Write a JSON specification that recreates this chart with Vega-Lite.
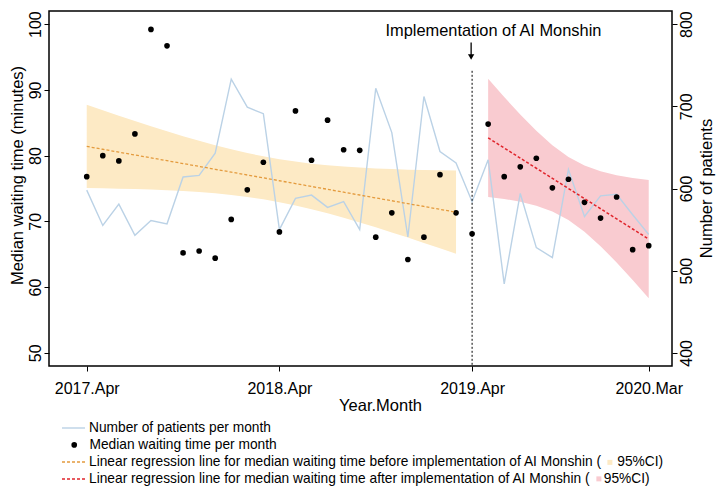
{
  "$schema": "https://vega.github.io/schema/vega-lite/v6.json",
  "width": 623,
  "height": 355,
  "autosize": {"type": "none"},
  "padding": {"left": 49, "top": 11, "right": 54, "bottom": 127},
  "datasets": {
    "monthly": [
      {"month": 0, "wait": 76.8, "patients": 598},
      {"month": 1, "wait": 80.0, "patients": 555},
      {"month": 2, "wait": 79.2, "patients": 581},
      {"month": 3, "wait": 83.3, "patients": 543},
      {"month": 4, "wait": 99.2, "patients": 561},
      {"month": 5, "wait": 96.7, "patients": 557},
      {"month": 6, "wait": 65.2, "patients": 614},
      {"month": 7, "wait": 65.5, "patients": 616},
      {"month": 8, "wait": 64.4, "patients": 643},
      {"month": 9, "wait": 70.3, "patients": 733},
      {"month": 10, "wait": 74.8, "patients": 699},
      {"month": 11, "wait": 79.0, "patients": 691},
      {"month": 12, "wait": 68.4, "patients": 550},
      {"month": 13, "wait": 86.8, "patients": 588},
      {"month": 14, "wait": 79.3, "patients": 592},
      {"month": 15, "wait": 85.4, "patients": 577},
      {"month": 16, "wait": 80.9, "patients": 584},
      {"month": 17, "wait": 80.8, "patients": 550},
      {"month": 18, "wait": 67.6, "patients": 722},
      {"month": 19, "wait": 71.3, "patients": 668},
      {"month": 20, "wait": 64.2, "patients": 541},
      {"month": 21, "wait": 67.6, "patients": 712},
      {"month": 22, "wait": 77.1, "patients": 645},
      {"month": 23, "wait": 71.3, "patients": 631},
      {"month": 24, "wait": 68.1, "patients": 584},
      {"month": 25, "wait": 84.8, "patients": 635},
      {"month": 26, "wait": 76.8, "patients": 484},
      {"month": 27, "wait": 78.3, "patients": 594},
      {"month": 28, "wait": 79.6, "patients": 528},
      {"month": 29, "wait": 75.1, "patients": 516},
      {"month": 30, "wait": 76.4, "patients": 623},
      {"month": 31, "wait": 72.9, "patients": 566},
      {"month": 32, "wait": 70.5, "patients": 591},
      {"month": 33, "wait": 73.7, "patients": 593},
      {"month": 34, "wait": 65.7, "patients": 568},
      {"month": 35, "wait": 66.3, "patients": 544}
    ],
    "fit": [
      {"period": "before", "month": 0, "fit": 81.40, "lo": 75.07, "hi": 87.73},
      {"period": "before", "month": 1, "fit": 80.97, "lo": 75.04, "hi": 86.90},
      {"period": "before", "month": 2, "fit": 80.53, "lo": 74.98, "hi": 86.08},
      {"period": "before", "month": 3, "fit": 80.10, "lo": 74.93, "hi": 85.27},
      {"period": "before", "month": 4, "fit": 79.66, "lo": 74.84, "hi": 84.48},
      {"period": "before", "month": 5, "fit": 79.23, "lo": 74.75, "hi": 83.71},
      {"period": "before", "month": 6, "fit": 78.79, "lo": 74.62, "hi": 82.96},
      {"period": "before", "month": 7, "fit": 78.36, "lo": 74.46, "hi": 82.26},
      {"period": "before", "month": 8, "fit": 77.92, "lo": 74.26, "hi": 81.58},
      {"period": "before", "month": 9, "fit": 77.49, "lo": 74.02, "hi": 80.96},
      {"period": "before", "month": 10, "fit": 77.05, "lo": 73.71, "hi": 80.39},
      {"period": "before", "month": 11, "fit": 76.62, "lo": 73.35, "hi": 79.89},
      {"period": "before", "month": 12, "fit": 76.18, "lo": 72.91, "hi": 79.45},
      {"period": "before", "month": 13, "fit": 75.75, "lo": 72.41, "hi": 79.09},
      {"period": "before", "month": 14, "fit": 75.31, "lo": 71.84, "hi": 78.78},
      {"period": "before", "month": 15, "fit": 74.88, "lo": 71.22, "hi": 78.54},
      {"period": "before", "month": 16, "fit": 74.44, "lo": 70.54, "hi": 78.34},
      {"period": "before", "month": 17, "fit": 74.01, "lo": 69.84, "hi": 78.18},
      {"period": "before", "month": 18, "fit": 73.57, "lo": 69.09, "hi": 78.05},
      {"period": "before", "month": 19, "fit": 73.14, "lo": 68.32, "hi": 77.96},
      {"period": "before", "month": 20, "fit": 72.70, "lo": 67.53, "hi": 77.87},
      {"period": "before", "month": 21, "fit": 72.27, "lo": 66.72, "hi": 77.82},
      {"period": "before", "month": 22, "fit": 71.83, "lo": 65.90, "hi": 77.76},
      {"period": "before", "month": 23, "fit": 71.40, "lo": 65.07, "hi": 77.73},
      {"period": "after", "month": 25, "fit": 82.70, "lo": 73.70, "hi": 91.70},
      {"period": "after", "month": 26, "fit": 81.16, "lo": 73.41, "hi": 88.91},
      {"period": "after", "month": 27, "fit": 79.62, "lo": 72.99, "hi": 86.25},
      {"period": "after", "month": 28, "fit": 78.08, "lo": 72.39, "hi": 83.77},
      {"period": "after", "month": 29, "fit": 76.54, "lo": 71.50, "hi": 81.58},
      {"period": "after", "month": 30, "fit": 75.00, "lo": 70.19, "hi": 79.81},
      {"period": "after", "month": 31, "fit": 73.46, "lo": 68.42, "hi": 78.50},
      {"period": "after", "month": 32, "fit": 71.92, "lo": 66.23, "hi": 77.61},
      {"period": "after", "month": 33, "fit": 70.38, "lo": 63.75, "hi": 77.01},
      {"period": "after", "month": 34, "fit": 68.84, "lo": 61.09, "hi": 76.59},
      {"period": "after", "month": 35, "fit": 67.30, "lo": 58.30, "hi": 76.30}
    ]
  },
  "resolve": {"scale": {"y": "independent", "color": "independent"}},
  "layer": [
    {
      "data": {"name": "fit"},
      "resolve": {"scale": {"color": "independent"}},
      "layer": [
        {
          "transform": [{"filter": "datum.period == 'before'"}],
          "mark": {"type": "area"},
          "encoding": {
            "x": {"field": "month", "type": "quantitative",
              "scale": {"domain": [-2.35, 36.45], "nice": false, "zero": false},
              "axis": {"values": [0, 12, 24, 35], "title": "Year.Month",
                "labelExpr": "datum.value == 0 ? '2017.Apr' : datum.value == 12 ? '2018.Apr' : datum.value == 24 ? '2019.Apr' : '2020.Mar'",
                "labelPadding": 9, "titleX": 331, "titleY": 39, "titleBaseline": "middle"}},
            "y": {"field": "lo", "type": "quantitative",
              "scale": {"domain": [48, 102], "nice": false, "zero": false},
              "axis": {"orient": "left", "values": [50, 60, 70, 80, 90, 100], "labelAngle": -90,
                "labelPadding": 1, "title": "Median waiting time (minutes)",
                "titleAngle": -90, "titleX": -32, "titleY": 164, "titleBaseline": "middle", "titleAlign": "center"}},
            "y2": {"field": "hi"},
            "color": {"datum": "before", "scale": {"range": ["#FDEAC5"]},
              "legend": {"title": null, "orient": "none", "legendX": 554, "legendY": 444.5,
                "symbolType": "square", "symbolSize": 25, "labelOffset": 0.5, "labelExpr": "'95%CI)'"}}
          }
        },
        {
          "transform": [{"filter": "datum.period == 'after'"}],
          "mark": {"type": "area"},
          "encoding": {
            "x": {"field": "month", "type": "quantitative",
              "scale": {"domain": [-2.35, 36.45], "nice": false, "zero": false}},
            "y": {"field": "lo", "type": "quantitative",
              "scale": {"domain": [48, 102], "nice": false, "zero": false}},
            "y2": {"field": "hi"},
            "color": {"datum": "after", "scale": {"range": ["#F9CBD0"]},
              "legend": {"title": null, "orient": "none", "legendX": 543, "legendY": 461,
                "symbolType": "square", "symbolSize": 25, "labelOffset": -2, "labelExpr": "'95%CI)'"}}
          }
        }
      ]
    },
    {
      "data": {"name": "monthly"},
      "mark": {"type": "line", "strokeWidth": 1.4},
      "encoding": {
        "x": {"field": "month", "type": "quantitative",
          "scale": {"domain": [-2.35, 36.45], "nice": false, "zero": false}},
        "y": {"field": "patients", "type": "quantitative",
          "scale": {"domain": [384, 816], "nice": false, "zero": false},
          "axis": {"orient": "right", "values": [400, 500, 600, 700, 800], "labelAngle": -90,
            "labelPadding": 1, "title": "Number of patients",
            "titleAngle": -90, "titleX": 34, "titleY": 177, "titleBaseline": "middle", "titleAlign": "center"}},
        "color": {"datum": "Number of patients per month", "scale": {"range": ["#BBD2E6"]},
          "legend": {"title": null, "orient": "none", "legendX": 12, "legendY": 404.5,
            "symbolType": "stroke", "symbolSize": 529, "symbolStrokeWidth": 1.4, "labelOffset": 3}}
      }
    },
    {
      "resolve": {"scale": {"color": "independent"}},
      "layer": [
        {
          "data": {"name": "monthly"},
          "mark": {"type": "point", "filled": true, "size": 32, "opacity": 1},
          "encoding": {
            "x": {"field": "month", "type": "quantitative",
              "scale": {"domain": [-2.35, 36.45], "nice": false, "zero": false}},
            "y": {"field": "wait", "type": "quantitative",
              "scale": {"domain": [48, 102], "nice": false, "zero": false}, "axis": null},
            "color": {"datum": "Median waiting time per month", "scale": {"range": ["black"]},
              "legend": {"title": null, "orient": "none", "legendX": 18.35, "legendY": 427,
                "symbolType": "circle", "symbolSize": 32, "labelOffset": 8.35}}
          }
        },
        {
          "data": {"name": "fit"},
          "transform": [{"filter": "datum.period == 'before'"}],
          "mark": {"type": "line", "strokeWidth": 1.3, "strokeDash": [3, 2]},
          "encoding": {
            "x": {"field": "month", "type": "quantitative",
              "scale": {"domain": [-2.35, 36.45], "nice": false, "zero": false}},
            "y": {"field": "fit", "type": "quantitative",
              "scale": {"domain": [48, 102], "nice": false, "zero": false}},
            "color": {"datum": "Linear regression line for median waiting time before implementation of AI Monshin (",
              "scale": {"range": ["#E49B3E"]},
              "legend": {"title": null, "orient": "none", "legendX": 12, "legendY": 438.5,
                "symbolType": "stroke", "symbolSize": 529, "symbolStrokeWidth": 1.3, "symbolDash": [3, 2], "labelOffset": 3}}
          }
        },
        {
          "data": {"name": "fit"},
          "transform": [{"filter": "datum.period == 'after'"}],
          "mark": {"type": "line", "strokeWidth": 1.5, "strokeDash": [3, 2]},
          "encoding": {
            "x": {"field": "month", "type": "quantitative",
              "scale": {"domain": [-2.35, 36.45], "nice": false, "zero": false}},
            "y": {"field": "fit", "type": "quantitative",
              "scale": {"domain": [48, 102], "nice": false, "zero": false}},
            "color": {"datum": "Linear regression line for median waiting time after implementation of AI Monshin (",
              "scale": {"range": ["#E0242B"]},
              "legend": {"title": null, "orient": "none", "legendX": 12, "legendY": 455.5,
                "symbolType": "stroke", "symbolSize": 529, "symbolStrokeWidth": 1.5, "symbolDash": [3, 2], "labelOffset": 3}}
          }
        },
        {
          "data": {"values": [{}]},
          "mark": {"type": "rule", "color": "black", "strokeWidth": 1, "strokeDash": [2, 2]},
          "encoding": {
            "x": {"datum": 24, "type": "quantitative",
              "scale": {"domain": [-2.35, 36.45], "nice": false, "zero": false}},
            "y": {"datum": 92.9, "type": "quantitative",
              "scale": {"domain": [48, 102], "nice": false, "zero": false}},
            "y2": {"datum": 48}
          }
        },
        {
          "data": {"values": [{}]},
          "mark": {"type": "rule", "color": "black", "strokeWidth": 1.3},
          "encoding": {
            "x": {"datum": 23.94, "type": "quantitative",
              "scale": {"domain": [-2.35, 36.45], "nice": false, "zero": false}},
            "y": {"datum": 97.2, "type": "quantitative",
              "scale": {"domain": [48, 102], "nice": false, "zero": false}},
            "y2": {"datum": 95.3}
          }
        },
        {
          "data": {"values": [{}]},
          "mark": {"type": "point", "shape": "triangle-down", "filled": true, "size": 40, "color": "black", "opacity": 1},
          "encoding": {
            "x": {"datum": 23.94, "type": "quantitative",
              "scale": {"domain": [-2.35, 36.45], "nice": false, "zero": false}},
            "y": {"datum": 95.0, "type": "quantitative",
              "scale": {"domain": [48, 102], "nice": false, "zero": false}}
          }
        },
        {
          "data": {"values": [{}]},
          "mark": {"type": "text", "fontSize": 16.4, "align": "center", "baseline": "middle", "color": "black"},
          "encoding": {
            "x": {"datum": 25.33, "type": "quantitative",
              "scale": {"domain": [-2.35, 36.45], "nice": false, "zero": false}},
            "y": {"datum": 98.93, "type": "quantitative",
              "scale": {"domain": [48, 102], "nice": false, "zero": false}},
            "text": {"value": "Implementation of AI Monshin"}
          }
        }
      ]
    }
  ],
  "config": {
    "font": "Liberation Sans",
    "view": {"stroke": "black", "strokeWidth": 1.5},
    "axis": {
      "grid": false,
      "domain": false,
      "tickColor": "black",
      "tickSize": 5,
      "tickWidth": 1,
      "labelFont": "Liberation Sans",
      "labelFontSize": 16,
      "labelColor": "black",
      "titleFont": "Liberation Sans",
      "titleFontSize": 16.5,
      "titleFontWeight": "normal",
      "titleColor": "black"
    },
    "legend": {
      "labelFont": "Liberation Sans",
      "labelFontSize": 13.75,
      "labelColor": "black",
      "labelLimit": 700,
      "padding": 0
    }
  }
}
